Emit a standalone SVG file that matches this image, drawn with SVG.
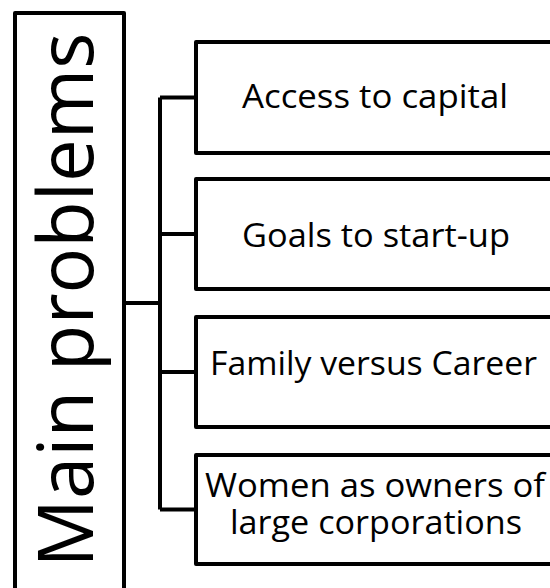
<svg xmlns="http://www.w3.org/2000/svg" width="550" height="588" viewBox="0 0 550 588">
<style>
.box{fill:#fff;stroke:#000;stroke-width:4;stroke-linejoin:round}
.lbl{font-family:"Open Sans","Liberation Sans",sans-serif;font-size:33px;fill:#000;text-anchor:middle}
.main{font-family:"Open Sans","Liberation Sans",sans-serif;font-size:76px;fill:#000;text-anchor:middle}
.conn{fill:none;stroke:#000;stroke-width:4;stroke-linejoin:round}
</style>
<rect x="0" y="0" width="550" height="588" fill="#fff"/>
<g id="connectors">
<path class="conn" d="M124,303 H160 M160,97.5 V509.5 M160,97.5 H196 M160,234 H196 M160,372 H196 M160,509.5 H196"/>
</g>
<g id="main">
<rect class="box" x="15" y="13" width="109" height="600"/>
<text class="main" transform="translate(93,300) rotate(-90)" textLength="535" lengthAdjust="spacingAndGlyphs">Main problems</text>
</g>
<g id="n1">
<rect class="box" x="196" y="42" width="370" height="111"/>
<text class="lbl" x="375" y="108" textLength="266" lengthAdjust="spacingAndGlyphs">Access to capital</text>
</g>
<g id="n2">
<rect class="box" x="196" y="179" width="370" height="110"/>
<text class="lbl" x="376" y="247" textLength="268" lengthAdjust="spacingAndGlyphs">Goals to start-up</text>
</g>
<g id="n3">
<rect class="box" x="196" y="317" width="370" height="110"/>
<text class="lbl" x="373.5" y="375" textLength="327" lengthAdjust="spacingAndGlyphs">Family versus Career</text>
</g>
<g id="n4">
<rect class="box" x="196" y="455" width="370" height="109"/>
<text class="lbl" x="375" y="497" textLength="340" lengthAdjust="spacingAndGlyphs">Women as owners of</text>
<text class="lbl" x="376" y="534" textLength="292" lengthAdjust="spacingAndGlyphs">large corporations</text>
</g>
</svg>
